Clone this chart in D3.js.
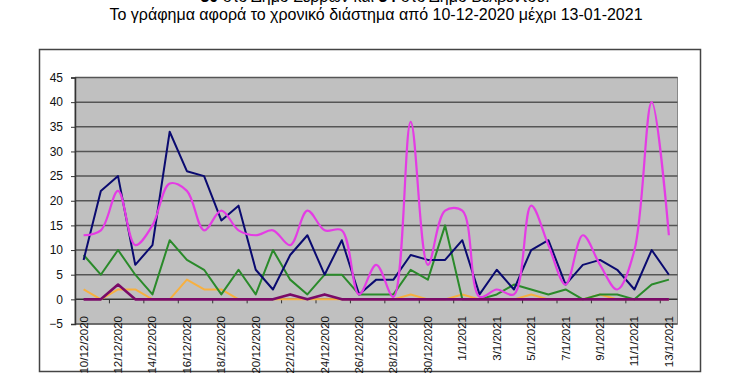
<!DOCTYPE html>
<html>
<head>
<meta charset="utf-8">
<script src="https://cdn.jsdelivr.net/npm/d3@7"></script>
<style>
  body { margin: 0; background: #fff; }
  text { font-family: "Liberation Sans", Arial, sans-serif; }
</style>
</head>
<body>
<div id="chart"></div>
<script>
// dates 10/12/2020 .. 13/1/2021
var days = ["10/12/2020", "11/12/2020", "12/12/2020", "13/12/2020", "14/12/2020", "15/12/2020", "16/12/2020",
  "17/12/2020", "18/12/2020", "19/12/2020", "20/12/2020", "21/12/2020", "22/12/2020", "23/12/2020", "24/12/2020",
  "25/12/2020", "26/12/2020", "27/12/2020", "28/12/2020", "29/12/2020", "30/12/2020", "31/12/2020", "1/1/2021",
  "2/1/2021", "3/1/2021", "4/1/2021", "5/1/2021", "6/1/2021", "7/1/2021", "8/1/2021", "9/1/2021", "10/1/2021",
  "11/1/2021", "12/1/2021", "13/1/2021"];

var navyVals = [8, 22, 25, 7, 11, 34, 26, 25, 16, 19, 6, 2, 9, 13, 5, 12, 1, 4, 4, 9, 8, 8, 12, 1, 6,
  2, 10, 12, 3, 7, 8, 6, 2, 10, 5];
var greenVals = [9, 5, 10, 5, 1, 12, 8, 6, 1, 6, 1, 10, 4, 1, 5, 5, 1, 1, 1, 6, 4, 15, 0, 0, 1,
  3, 2, 1, 2, 0, 1, 1, 0, 3, 4];
var magentaVals = [13, 14, 22, 11, 15, 23.5, 22, 14, 18, 14, 13, 14, 11, 18, 14, 14, 1, 7, 0.5, 36, 7, 18, 18, 0.5, 2,
  1, 19, 11, 3, 13, 7, 2, 10, 40, 13];
var orangeVals = [2, 0, 2, 2, 0, 0, 4, 2, 2, 0, 0, 0, 0, 0, 0, 0, 0, 0, 0, 1, 0, 0, 1, 0, 0,
  0, 1, 0, 0, 0, 1, 0, 0, 0, 0];
var purpleVals = [0, 0, 3, 0, 0, 0, 0, 0, 0, 0, 0, 0, 1, 0, 1, 0, 0, 0, 0, 0, 0, 0, 0, 0, 0,
  0, 0, 0, 0, 0, 0, 0, 0, 0, 0];
var yTicks = [-5, 0, 5, 10, 15, 20, 25, 30, 35, 40, 45];

var width = 750,
  height = 375;

var svg = d3.select("#chart").append("svg")
  .attr("width", width)
  .attr("height", height);

// title, first line is cut off by the top edge
var t1 = svg.append("text").attr("x", 375).attr("y", 2).attr("text-anchor", "middle")
  .attr("font-size", "16px").attr("fill", "#000");
t1.append("tspan").attr("font-weight", "bold").text("30");
t1.append("tspan").text(" στο Δήμο Σερρών και ");
t1.append("tspan").attr("font-weight", "bold").text("34");
t1.append("tspan").text(" στο Δήμο Βελβεντού.");
svg.append("text").attr("x", 376).attr("y", 20).attr("text-anchor", "middle")
  .attr("font-size", "16px").attr("fill", "#000")
  .text("Το γράφημα αφορά το χρονικό διάστημα από 10-12-2020 μέχρι 13-01-2021");

// outer frame
svg.append("rect")
  .attr("x", 39.5).attr("y", 49.5).attr("width", 661).attr("height", 322)
  .attr("fill", "none").attr("stroke", "#444").attr("stroke-width", 1.5);

var pLeft = 75,
  pRight = 677.5,
  pTop = 77.5,
  pBottom = 324;

var x = d3.scaleBand().domain(d3.range(days.length)).range([pLeft, pRight]);
var y = d3.scaleLinear().domain([-5, 45]).range([pBottom, pTop]);

svg.append("rect")
  .attr("x", pLeft).attr("y", pTop).attr("width", pRight - pLeft).attr("height", pBottom - pTop)
  .attr("fill", "#c0c0c0").attr("stroke", "#888").attr("stroke-width", 1);

// gridlines
svg.selectAll("line.grid")
  .data(yTicks)
  .enter()
  .append("line")
  .attr("class", "grid")
  .attr("x1", pLeft).attr("x2", pRight)
  .attr("y1", function(d) { return y(d); })
  .attr("y2", function(d) { return y(d); })
  .attr("stroke", function(d) { return d === 0 ? "#333" : "#555"; })
  .attr("stroke-width", 1.5);

// y axis
var yAxis = svg.append("g")
  .attr("transform", "translate(" + pLeft + ",0)")
  .call(d3.axisLeft(y).tickValues(yTicks).tickSize(4).tickPadding(8));
yAxis.select(".domain").attr("stroke", "#333").attr("stroke-width", 1.5);
yAxis.selectAll(".tick line").attr("stroke", "#333");
yAxis.selectAll("text").attr("font-size", "12px").attr("fill", "#111")
  .attr("font-family", "'Liberation Sans', Arial, sans-serif");

// category ticks on the zero line, every second day boundary
var bw = x.bandwidth();
svg.selectAll("line.ctick")
  .data(d3.range(2, days.length, 2))
  .enter()
  .append("line")
  .attr("class", "ctick")
  .attr("x1", function(d) { return pLeft + d * bw; })
  .attr("x2", function(d) { return pLeft + d * bw; })
  .attr("y1", y(0)).attr("y2", y(0) + 4)
  .attr("stroke", "#333").attr("stroke-width", 1);

// date labels, rotated
svg.selectAll("text.xlab")
  .data(d3.range(0, days.length, 2))
  .enter()
  .append("text")
  .attr("class", "xlab")
  .attr("transform", function(d) {
    return "translate(" + (x(d) + bw / 2) + ",316) rotate(-90)";
  })
  .attr("text-anchor", "end")
  .attr("dy", "0.35em")
  .attr("font-size", "11.5px")
  .attr("fill", "#111")
  .text(function(d) { return days[d]; });

function addseries(vals, color, w, curve) {
  var line = d3.line()
    .x(function(d, i) { return x(i) + bw / 2; })
    .y(function(d) { return y(d); })
    .curve(curve || d3.curveLinear);
  svg.append("path")
    .datum(vals)
    .attr("d", line)
    .attr("fill", "none")
    .attr("stroke", color)
    .attr("stroke-width", w)
    .attr("stroke-linejoin", "round");
}

addseries(orangeVals, "#f7b040", 2);
addseries(greenVals, "#2a8a2a", 2);
addseries(navyVals, "#0a0a70", 2);
addseries(magentaVals, "#e43ce4", 2.2, d3.curveCatmullRom.alpha(0.5));
addseries(purpleVals, "#7a0a68", 2.6);
</script>
</body>
</html>
